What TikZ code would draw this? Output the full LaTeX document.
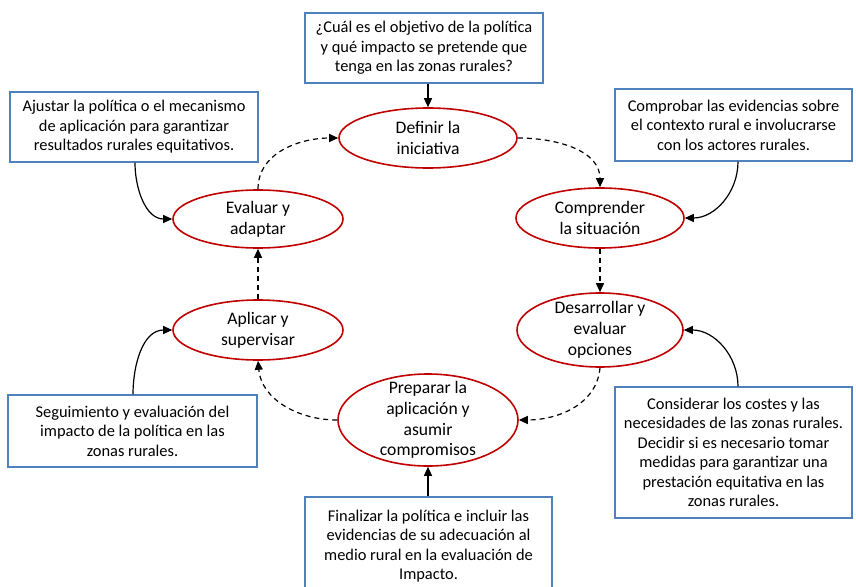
\documentclass[tikz,border=0pt]{standalone}
\usepackage{fontspec}
\setmainfont{Carlito}
\usetikzlibrary{shapes.geometric,arrows.meta}
\definecolor{boxblue}{RGB}{79,129,189}
\definecolor{ellred}{RGB}{192,0,0}
\begin{document}
\begin{tikzpicture}[x=1pt,y=1pt,
  box/.style={draw=boxblue, line width=1.3pt, align=center, inner sep=0pt, fill=white,
    font=\fontsize{16.4}{19.5}\selectfont},
  cyc/.style={draw=ellred, ellipse, line width=1.6pt, inner sep=0pt},
  ctext/.style={align=center, inner sep=0pt, font=\fontsize{17.6}{20.8}\selectfont},
  solidarr/.style={-{Triangle[length=9pt,width=8pt]}, line width=1.2pt},
  dasharr/.style={solidarr, dash pattern=on 5pt off 4pt}]
\useasboundingbox (0,0) rectangle (856,-586);

% cycle ellipses
\node[cyc, minimum width=178, minimum height=60,
  label={[ctext]center:Definir la\\iniciativa}] (def) at (428,-138) {};
\node[cyc, minimum width=168, minimum height=60,
  label={[ctext]center:Comprender\\la situación}] (com) at (600,-218) {};
\node[cyc, minimum width=166, minimum height=74,
  label={[ctext]center:Desarrollar y\\evaluar\\opciones}] (des) at (600,-330) {};
\node[cyc, minimum width=180, minimum height=92,
  label={[ctext]center:Preparar la\\aplicación y\\asumir\\compromisos}] (prep) at (428,-420) {};
\node[cyc, minimum width=170, minimum height=60,
  label={[ctext]center:Aplicar y\\supervisar}] (apl) at (258,-330) {};
\node[cyc, minimum width=170, minimum height=58,
  label={[ctext]center:Evaluar y\\adaptar}] (eva) at (258,-219) {};

% boxes
\node[box, minimum width=238, minimum height=70] (q) at (424,-48)
  {¿Cuál es el objetivo de la política\\y qué impacto se pretende que\\tenga en las zonas rurales?};
\node[box, minimum width=248, minimum height=70] (adj) at (134,-127)
  {Ajustar la política o el mecanismo\\de aplicación para garantizar\\resultados rurales equitativos.};
\node[box, minimum width=237, minimum height=72] (chk) at (733.5,-125)
  {Comprobar las evidencias sobre\\el contexto rural e involucrarse\\con los actores rurales.};
\node[box, minimum width=249, minimum height=72] (seg) at (132.5,-431)
  {Seguimiento y evaluación del\\impacto de la política en las\\zonas rurales.};
\node[box, minimum width=237, minimum height=131] (cons) at (733.5,-452.5)
  {Considerar los costes y las\\necesidades de las zonas rurales.\\Decidir si es necesario tomar\\medidas para garantizar una\\prestación equitativa en las\\zonas rurales.};
\node[box, minimum width=247, minimum height=98] (fin) at (428.5,-546)
  {Finalizar la política e incluir las\\evidencias de su adecuación al\\medio rural en la evaluación de\\Impacto.};

% solid connectors
\draw[solidarr] (def.north |- q.south) -- (def.north);
\draw[solidarr] (prep.south |- fin.north) -- (prep.south);
\draw[solidarr] ([xshift=1pt]adj.south) to[out=-90,in=180] (eva.west);
\draw[solidarr] ([xshift=4.5pt]chk.south) to[out=-90,in=0] (com.east);
\draw[solidarr] ([xshift=4.5pt]cons.north) to[out=90,in=0] (des.east);
\draw[solidarr] ([xshift=0.5pt]seg.north) to[out=90,in=180] (apl.west);

% dashed cycle
\draw[dasharr] (def.east) to[out=0,in=90] (com.north);
\draw[dasharr] (com.south) -- (des.north);
\draw[dasharr] (des.south) to[out=-95,in=0] (prep.east);
\draw[dasharr] (prep.west) to[out=180,in=-85] (apl.south);
\draw[dasharr] (apl.north) -- (eva.south);
\draw[dasharr] (eva.north) to[out=90,in=180] (def.west);
\end{tikzpicture}
\end{document}
